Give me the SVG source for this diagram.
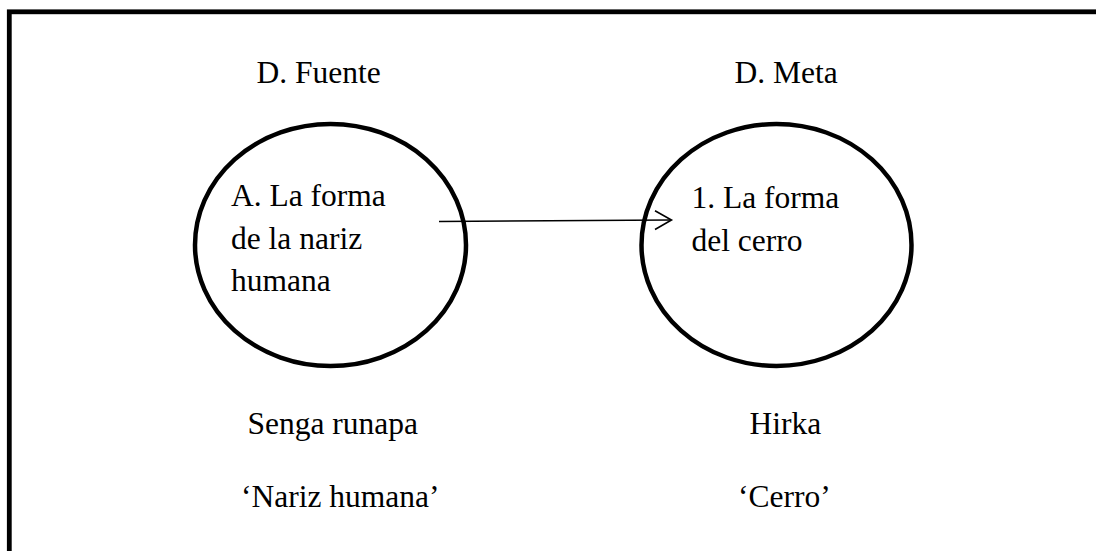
<svg xmlns="http://www.w3.org/2000/svg" width="1096" height="551" viewBox="0 0 1096 551">
<style>
.t{font-family:"Liberation Serif","Times New Roman",serif;font-size:31.5px;fill:#000}
.node{fill:none;stroke:#000;stroke-width:4.5}
.conn{fill:none;stroke:#000;stroke-width:1.6}
</style>
<rect x="9.3" y="11.8" width="1100" height="560" fill="#fff" stroke="#000" stroke-width="4.8"/>
<g id="source-domain">
<text class="t" x="256.5" y="83">D. Fuente</text>
<ellipse class="node" cx="330.5" cy="245" rx="135.5" ry="121"/>
<text class="t" x="231" y="206">A. La forma</text>
<text class="t" x="231" y="248.5">de la nariz</text>
<text class="t" x="231" y="291">humana</text>
<text class="t" x="247.5" y="433.5">Senga runapa</text>
<text class="t" x="241" y="507">‘Nariz humana’</text>
</g>
<g id="target-domain">
<text class="t" x="734.5" y="83">D. Meta</text>
<ellipse class="node" cx="776.5" cy="245" rx="135" ry="121"/>
<text class="t" x="691.5" y="208.3">1. La forma</text>
<text class="t" x="691.5" y="250.7">del cerro</text>
<text class="t" x="749.5" y="433.5">Hirka</text>
<text class="t" x="738" y="507">‘Cerro’</text>
</g>
<g id="connectors">
<line class="conn" x1="439" y1="221.5" x2="671" y2="220"/>
<polyline class="conn" points="655,210.7 671.5,220 655,229.5"/>
</g>
</svg>
